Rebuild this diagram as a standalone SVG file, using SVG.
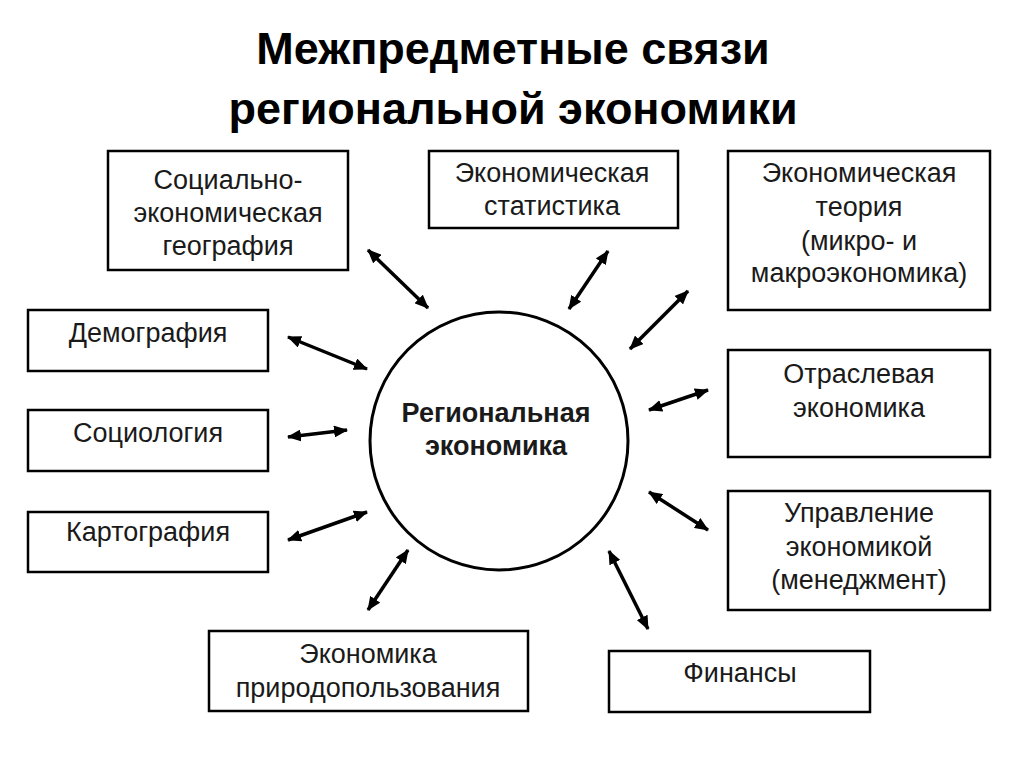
<svg xmlns="http://www.w3.org/2000/svg" width="1024" height="768" viewBox="0 0 1024 768">
<defs>
<style>
.box{fill:#fff;stroke:#000;stroke-width:2.5}
.t{font-family:"Liberation Sans",Arial,sans-serif;font-size:27px;fill:#1a1a1a;text-anchor:middle}
.title{font-family:"Liberation Sans",Arial,sans-serif;font-size:45px;font-weight:bold;fill:#000;text-anchor:middle}
.ct{font-family:"Liberation Sans",Arial,sans-serif;font-size:27px;font-weight:bold;fill:#1a1a1a;text-anchor:middle}
.arr{stroke:#000;stroke-width:3.5;fill:none;marker-start:url(#ah);marker-end:url(#ah)}
</style>
<marker id="ah" viewBox="0 0 14 12" refX="13" refY="6" markerWidth="14" markerHeight="12" markerUnits="userSpaceOnUse" orient="auto-start-reverse">
<path d="M0,0 L14,6 L0,12 Z" fill="#000"/>
</marker>
</defs>
<rect width="1024" height="768" fill="#fff"/>
<g id="title">
<text class="title" x="513" y="64">Межпредметные связи</text>
<text class="title" x="513" y="124">региональной экономики</text>
</g>
<g id="connectors">
<line class="arr" x1="368" y1="250" x2="428" y2="308"/>
<line class="arr" x1="608" y1="251" x2="569" y2="309"/>
<line class="arr" x1="688" y1="291" x2="630" y2="349"/>
<line class="arr" x1="288" y1="337" x2="367" y2="369"/>
<line class="arr" x1="288" y1="437" x2="347" y2="430"/>
<line class="arr" x1="288" y1="540" x2="367" y2="512"/>
<line class="arr" x1="649" y1="410" x2="708" y2="390"/>
<line class="arr" x1="649" y1="492" x2="708" y2="530"/>
<line class="arr" x1="609" y1="551" x2="648" y2="629"/>
<line class="arr" x1="408" y1="550" x2="368" y2="610"/>
</g>
<g id="center">
<circle cx="499" cy="441" r="129" fill="#fff" stroke="#000" stroke-width="3"/>
<text class="ct" x="496" y="422">Региональная</text>
<text class="ct" x="496" y="455">экономика</text>
</g>
<g id="n1">
<rect class="box" x="108" y="151" width="240" height="119"/>
<text class="t" x="228" y="189">Социально-</text>
<text class="t" x="228" y="222">экономическая</text>
<text class="t" x="228" y="255">география</text>
</g>
<g id="n2">
<rect class="box" x="429" y="151" width="249" height="77"/>
<text class="t" x="552" y="182">Экономическая</text>
<text class="t" x="552" y="215">статистика</text>
</g>
<g id="n3">
<rect class="box" x="728" y="151" width="262" height="159"/>
<text class="t" x="859" y="182">Экономическая</text>
<text class="t" x="859" y="216">теория</text>
<text class="t" x="859" y="250">(микро- и</text>
<text class="t" x="859" y="282">макроэкономика)</text>
</g>
<g id="n4">
<rect class="box" x="28" y="310" width="240" height="61"/>
<text class="t" x="148" y="342">Демография</text>
</g>
<g id="n5">
<rect class="box" x="28" y="410" width="240" height="61"/>
<text class="t" x="148" y="442">Социология</text>
</g>
<g id="n6">
<rect class="box" x="28" y="512" width="240" height="60"/>
<text class="t" x="148" y="541">Картография</text>
</g>
<g id="n7">
<rect class="box" x="728" y="350" width="262" height="107"/>
<text class="t" x="859" y="383">Отраслевая</text>
<text class="t" x="859" y="417">экономика</text>
</g>
<g id="n8">
<rect class="box" x="728" y="491" width="262" height="119"/>
<text class="t" x="859" y="522">Управление</text>
<text class="t" x="859" y="556">экономикой</text>
<text class="t" x="859" y="589">(менеджмент)</text>
</g>
<g id="n9">
<rect class="box" x="209" y="631" width="319" height="80"/>
<text class="t" x="368" y="663">Экономика</text>
<text class="t" x="368" y="697">природопользования</text>
</g>
<g id="n10">
<rect class="box" x="609" y="651" width="261" height="61"/>
<text class="t" x="740" y="682">Финансы</text>
</g>
</svg>
